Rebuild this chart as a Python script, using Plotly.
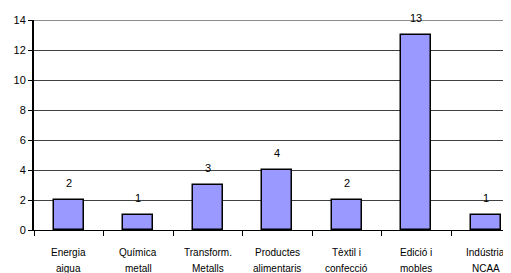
import plotly.graph_objects as go

categories = ["Energia aigua", "Química metall", "Transform. Metalls",
              "Productes alimentaris", "Tèxtil i confecció", "Edició i mobles",
              "Indústria NCAA"]
label_line1 = ["Energia", "Química", "Transform.", "Productes", "Tèxtil i", "Edició i", "Indústria"]
label_line2 = ["aigua", "metall", "Metalls", "alimentaris", "confecció", "mobles", "NCAA"]
values = [2, 1, 3, 4, 2, 13, 1]
y_ticks = [0, 2, 4, 6, 8, 10, 12, 14]

FONT = "Arial, Liberation Sans, sans-serif"

fig = go.Figure()
fig.add_trace(go.Bar(
    x=categories, y=values,
    marker=dict(color="#9999FF", line=dict(color="black", width=1.5)),
    width=0.43,
))

for c, v in zip(categories, values):
    fig.add_annotation(x=c, y=v, text=str(v), showarrow=False,
                       yanchor="bottom", yshift=9,
                       font=dict(family=FONT, size=11, color="black"))

for c, l1, l2 in zip(categories, label_line1, label_line2):
    fig.add_annotation(x=c, y=0, yref="paper", text=l1, showarrow=False,
                       yanchor="middle", yshift=-22,
                       font=dict(family=FONT, size=10, color="black"))
    fig.add_annotation(x=c, y=0, yref="paper", text=l2, showarrow=False,
                       yanchor="middle", yshift=-38,
                       font=dict(family=FONT, size=10, color="black"))

fig.add_shape(type="line", xref="paper", yref="y", x0=0, x1=1, y0=14, y1=14,
              line=dict(color="#8c8c8c", width=2), layer="above")

# page body has an 8px margin, so the figure is sized/offset to compensate
fig.update_layout(
    width=503, height=265,
    margin=dict(l=26, r=0, t=12, b=43),
    paper_bgcolor="white", plot_bgcolor="white",
    showlegend=False,
    bargap=0,
    font=dict(family=FONT, size=10, color="black"),
)
fig.update_xaxes(
    type="category", range=[-0.5, 6.363],
    tickson="boundaries", ticks="outside", ticklen=5, tickcolor="black",
    showline=True, linecolor="black", linewidth=1,
    showgrid=False, showticklabels=False, automargin=False,
)
fig.update_yaxes(
    range=[0, 14], tickvals=y_ticks, ticks="outside", ticklen=4, tickcolor="black",
    showline=True, linecolor="black", linewidth=2,
    showgrid=True, gridcolor="#404040", gridwidth=1,
    tickfont=dict(size=11), zeroline=False, automargin=False,
)

fig.write_html("out.html")
